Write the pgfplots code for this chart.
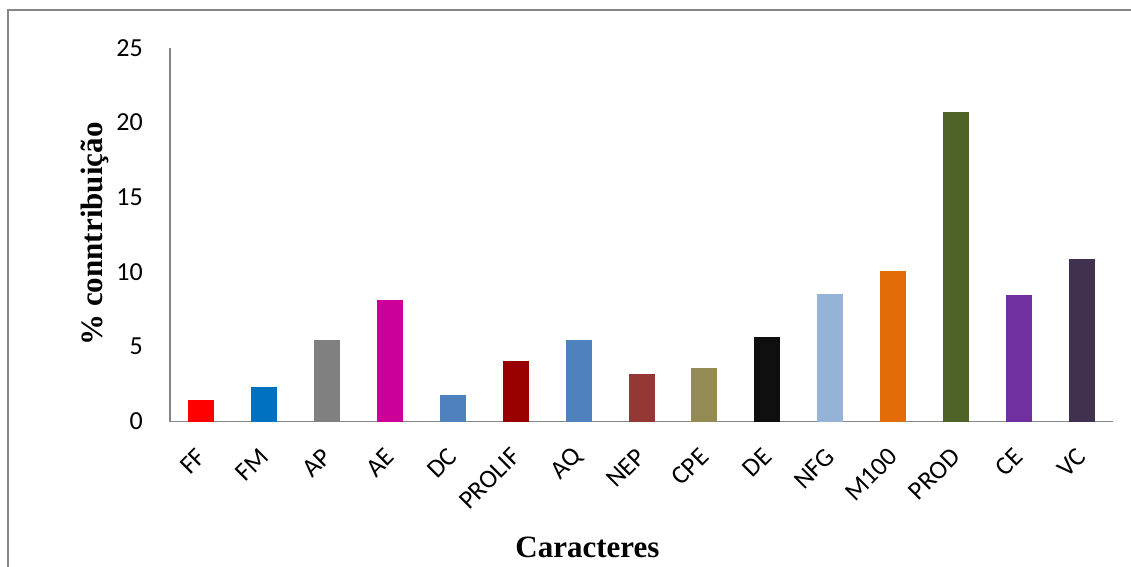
\documentclass[border=0pt]{standalone}
\usepackage{pgfplots}
\pgfplotsset{compat=1.18}
\usepackage{fontspec}
\setmainfont{Carlito}
\newfontfamily\titlefont{Liberation Serif}

\definecolor{framegray}{RGB}{134,134,134}
\definecolor{axisgray}{RGB}{134,134,134}
\definecolor{cFF}{HTML}{FF0000}
\definecolor{cFM}{HTML}{0070C0}
\definecolor{cAP}{HTML}{808080}
\definecolor{cAE}{HTML}{CC0099}
\definecolor{cDC}{HTML}{4F81BD}
\definecolor{cPROLIF}{HTML}{990000}
\definecolor{cAQ}{HTML}{4F81BD}
\definecolor{cNEP}{HTML}{953735}
\definecolor{cCPE}{HTML}{948A54}
\definecolor{cDE}{HTML}{0F0F0F}
\definecolor{cNFG}{HTML}{95B3D7}
\definecolor{cM}{HTML}{E36C09}
\definecolor{cPROD}{HTML}{4F6228}
\definecolor{cCE}{HTML}{7030A0}
\definecolor{cVC}{HTML}{403151}

\pgfplotsset{onebar/.style={ybar, bar width=26pt, bar shift=0pt, draw=none}}

\begin{document}
\begin{tikzpicture}[x=1pt,y=1pt]
\useasboundingbox (0,0) rectangle (1131,566);
% chart area frame
\draw[line width=2pt, framegray] (8,-20) -- (8,556) -- (1150,556);
\begin{axis}[
  at={(170pt,144.5pt)}, anchor=south west,
  scale only axis, width=943pt, height=373.8pt,
  xmin=-0.5, xmax=14.5, ymin=0, ymax=25,
  axis x line*=bottom, axis y line*=left,
  axis line style={line width=1.5pt, draw=axisgray, -},
  xtick={0,...,14},
  xticklabels={FF,FM,AP,AE,DC,PROLIF,AQ,NEP,CPE,DE,NFG,M100,PROD,CE,VC},
  ytick={0,5,...,25},
  major tick length=0pt,
  tick style={draw=none},
  font=\fontsize{26}{30}\selectfont,
  /pgf/number format/assume math mode=true,
  yticklabel style={anchor=east, inner sep=0pt, xshift=-27pt},
  xticklabel style={xshift=0pt, yshift=-31pt, rotate=45, anchor=east, inner sep=0pt},
  xlabel={Caracteres},
  ylabel={\% conntribuição},
  label style={font=\titlefont\bfseries\fontsize{31}{36}\selectfont},
  xlabel style={at={(rel axis cs:0.4427,-0.3625)}, anchor=base},
  ylabel style={at={(rel axis cs:-0.0711,0.5016)}, anchor=base},
  clip=false,
]
\addplot[onebar, fill=cFF]     coordinates {(0,1.47)};
\addplot[onebar, fill=cFM]     coordinates {(1,2.33)};
\addplot[onebar, fill=cAP]     coordinates {(2,5.47)};
\addplot[onebar, fill=cAE]     coordinates {(3,8.13)};
\addplot[onebar, fill=cDC]     coordinates {(4,1.78)};
\addplot[onebar, fill=cPROLIF] coordinates {(5,4.07)};
\addplot[onebar, fill=cAQ]     coordinates {(6,5.47)};
\addplot[onebar, fill=cNEP]    coordinates {(7,3.20)};
\addplot[onebar, fill=cCPE]    coordinates {(8,3.60)};
\addplot[onebar, fill=cDE]     coordinates {(9,5.67)};
\addplot[onebar, fill=cNFG]    coordinates {(10,8.53)};
\addplot[onebar, fill=cM]      coordinates {(11,10.07)};
\addplot[onebar, fill=cPROD]   coordinates {(12,20.73)};
\addplot[onebar, fill=cCE]     coordinates {(13,8.47)};
\addplot[onebar, fill=cVC]     coordinates {(14,10.87)};
\end{axis}
\end{tikzpicture}
\end{document}
